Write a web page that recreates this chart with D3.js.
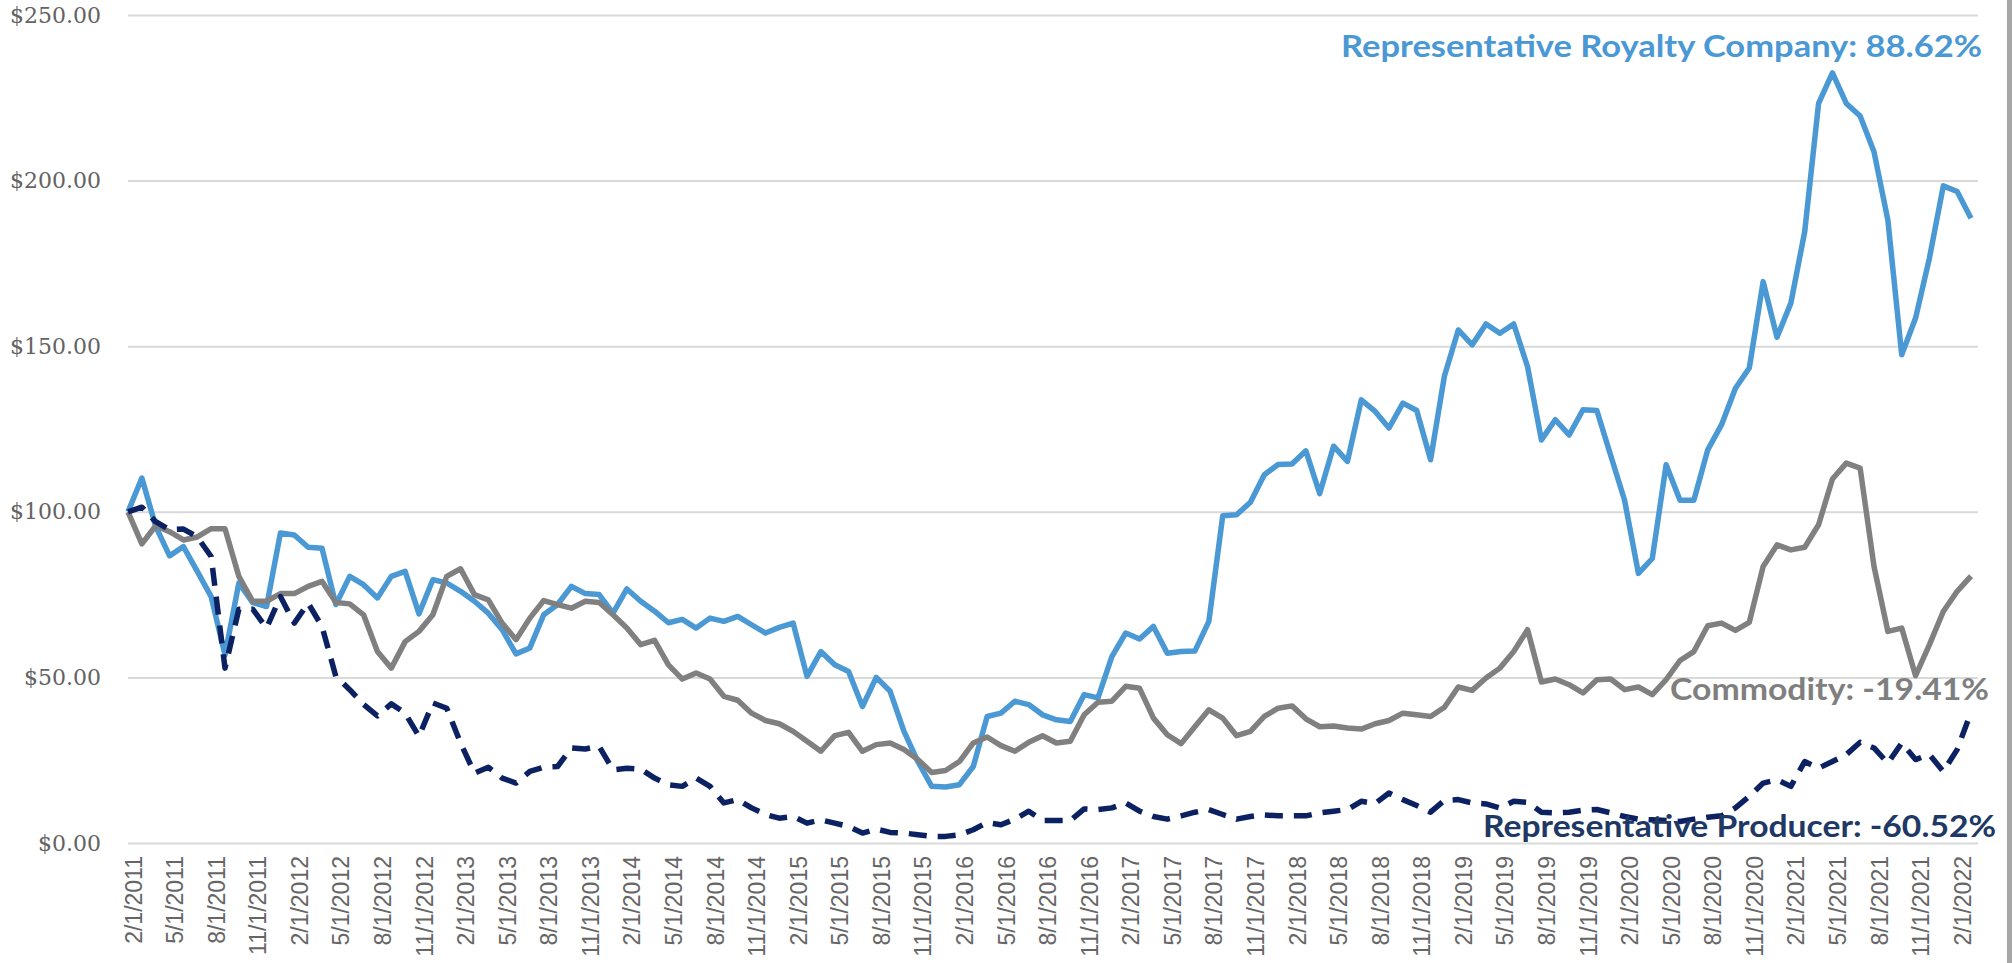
<!DOCTYPE html>
<html>
<head>
<meta charset="utf-8">
<script src="https://cdn.jsdelivr.net/npm/d3@7"></script>
<style>
  body { margin: 0; background: #fff; }
  .y-axis text { font-family: "DejaVu Serif", serif; font-size: 22px; fill: #636363; }
  .x-axis text { font-family: "Liberation Sans", Arial, sans-serif; font-size: 23px; fill: #666; }
  .series-label { font-family: Lato, "Open Sans", sans-serif; font-weight: 700; font-size: 31px; }
</style>
</head>
<body>
<script>
// monthly categories, 2/1/2011 .. 3/1/2022
var firstMonth = new Date(2011, 1, 1),
    lastMonth = new Date(2022, 2, 1);

var yTicks = [0, 50, 100, 150, 200, 250];

// indexed values, start = $100
var royalty = [
  100, 110.2, 95.6, 86.7, 89.5, 82, 74.4, 56.8, 78.5, 72.6, 71.4, 93.6,
  93, 89.3, 89, 72, 80.5, 78, 74, 80.5, 82, 69.2, 79.5, 78.5,
  76, 73, 69.4, 64.4, 57.1, 58.9, 68.9, 72, 77.5, 75.3, 75, 69.4,
  76.7, 73, 70, 66.5, 67.5, 64.9, 67.9, 66.9, 68.4, 65.9, 63.4, 65.1,
  66.4, 50.3, 57.8, 53.8, 51.8, 41.2, 50, 45.8, 33.7, 24.6, 17.1, 16.9,
  17.6, 23.1, 38.2, 39.2, 42.8, 41.8, 38.7, 37.2, 36.7, 44.8, 43.8, 56.3,
  63.4, 61.6, 65.4, 57.3, 57.8, 58, 66.9, 98.8, 99.1, 102.9, 111.2, 114.3,
  114.4, 118.4, 105.5, 119.8, 115.2, 133.8, 130.3, 125.3, 132.8, 130.6, 115.7, 141,
  154.9, 150.4, 156.7, 153.9, 156.7, 143.8, 121.7, 127.8, 123.2, 130.8, 130.6, 117,
  103.5, 81.4, 85.9, 114.2, 103.5, 103.5, 118.7, 126.3, 137.3, 143.4, 169.5, 152.7,
  163, 184.6, 223.3, 232.5, 223.3, 219.5, 208.7, 188.1, 147.4, 158.5, 176.6, 198.4,
  196.7, 188.62
];

var commodity = [
  100, 90.3, 95.8, 94, 91.5, 92.4, 94.9, 94.9, 80.5, 73, 73, 75.3,
  75.3, 77.5, 79, 72.6, 72.2, 68.9, 57.8, 52.8, 60.8, 63.9, 68.9, 80.5,
  82.8, 75, 73.4, 66.4, 61.4, 67.9, 73.2, 72, 70.9, 73, 72.6, 68.9,
  64.9, 59.9, 61.2, 53.8, 49.5, 51.3, 49.5, 44.3, 43.1, 39.2, 37, 36,
  33.7, 30.7, 27.7, 32.4, 33.4, 27.7, 29.7, 30.2, 28.2, 25.2, 21.3, 21.9,
  24.6, 30.2, 32, 29.4, 27.7, 30.4, 32.4, 30.2, 30.7, 38.7, 42.5, 42.8,
  47.3, 46.7, 37.7, 32.7, 30, 35.2, 40.2, 37.7, 32.4, 33.7, 38.2, 40.7,
  41.4, 37.5, 35.1, 35.3, 34.7, 34.4, 36, 37, 39.2, 38.7, 38.2, 41,
  47.1, 46.1, 49.8, 52.8, 57.8, 64.4, 48.6, 49.5, 47.8, 45.3, 49.3, 49.5,
  46.3, 47.1, 44.8, 49.3, 55.1, 57.8, 65.6, 66.4, 64.2, 66.6, 83.5, 90,
  88.5, 89.3, 96.1, 109.9, 114.7, 113.2, 83.5, 63.9, 64.9, 50.5, 59.9, 69.9,
  76, 80.59
];

var producer = [
  100, 101.4, 97, 94.6, 94.8, 92.4, 86.5, 52.8, 70.6, 70.6, 64.9, 74.4,
  66.4, 72.4, 65.4, 50.3, 46.3, 41.8, 38.4, 42, 39.2, 32.2, 42.3, 40.7,
  30.2, 21.1, 22.9, 19.6, 18.1, 21.6, 22.9, 23.1, 28.7, 28.4, 29.2, 22.1,
  22.6, 22.3, 19.6, 17.6, 17.1, 19.6, 17.1, 12.1, 13.1, 10.6, 8.6, 7.5,
  8, 6, 7, 6, 5, 3, 4.2, 3.2, 3, 2.5, 2, 2,
  2.5, 4, 6.2, 5.5, 7.2, 9.6, 6.8, 6.8, 6.8, 10.3, 10.1, 10.6,
  12.1, 9.6, 8, 7.2, 8.2, 9.3, 10.1, 8.6, 7.2, 8, 8.5, 8.2,
  8.2, 8.2, 9.1, 9.6, 10.1, 12.6, 11.9, 15.1, 13.1, 11.3, 9.3, 12.9,
  13.1, 12.1, 11.8, 10.6, 12.6, 12.3, 9.3, 9.1, 9.3, 9.9, 10.1, 9.1,
  8, 7.2, 7, 6.8, 6.5, 7.2, 7.8, 8.2, 10.6, 14.1, 18.1, 19.1,
  17.1, 24.6, 22.6, 24.6, 26.7, 30.4, 28.7, 24.1, 30.2, 25.2, 26.7, 21.6,
  28.2, 39.48
];

var seriesNames = ["Representative Royalty Company", "Commodity", "Representative Producer"];
var seriesReturns = ["88.62%", "-19.41%", "-60.52%"];

var width = 2013,
    height = 963;

var months = d3.timeMonth.range(firstMonth, d3.timeMonth.offset(lastMonth, 1));
var fmtDate = d3.timeFormat("%-m/%-d/%Y");

var svg = d3.select("body").append("svg")
    .attr("width", width)
    .attr("height", height);

// x: one slot per month, points on the ticks
var x = d3.scalePoint()
    .domain(months.map(fmtDate))
    .range([128, 1971]);

var y = d3.scaleLinear()
    .domain([0, 250])
    .range([843, 15]);

// gridlines + y labels
var yAxis = svg.append("g")
    .attr("class", "y-axis")
    .attr("transform", "translate(128,0)")
    .call(d3.axisLeft(y)
        .tickValues(yTicks)
        .tickSize(-(1978 - 128))
        .tickPadding(27)
        .tickFormat(function(d) { return "$" + d3.format(".2f")(d); }));
yAxis.select(".domain").remove();
yAxis.selectAll("line").attr("stroke", "#d9d9d9").attr("stroke-width", 2);

// x labels every 3rd month
var xAxis = svg.append("g")
    .attr("class", "x-axis")
    .attr("transform", "translate(5,856)")
    .call(d3.axisBottom(x)
        .tickValues(x.domain().filter(function(d, i) { return i % 3 == 0; }))
        .tickSize(0)
        .tickPadding(0));
xAxis.select(".domain").remove();
xAxis.selectAll("text")
    .attr("transform", "rotate(-90)")
    .attr("text-anchor", "end")
    .attr("x", 0)
    .attr("y", 0)
    .attr("dy", "0.35em");

var line = d3.line()
    .x(function(d, i) { return x(fmtDate(months[i])); })
    .y(function(d) { return y(d); });

var series = [
  {values: royalty, color: "#4a98d4", dash: null},
  {values: commodity, color: "#808080", dash: null},
  {values: producer, color: "#0b2162", dash: "18,11"}
];

svg.append("g")
    .selectAll("path")
    .data(series)
    .enter()
    .append("path")
    .attr("d", function(d) { return line(d.values); })
    .attr("fill", "none")
    .attr("stroke", function(d) { return d.color; })
    .attr("stroke-width", 5.5)
    .attr("stroke-linejoin", "round")
    .attr("stroke-dasharray", function(d) { return d.dash; });

// end-of-line labels
var labels = [
  {x: 1982, y: 57, w: 641, color: "#4a98d4"},
  {x: 1989, y: 700, w: 319, color: "#7f7f7f"},
  {x: 1996, y: 837, w: 513, color: "#203864"}
];

svg.append("g")
    .selectAll("text")
    .data(labels)
    .enter()
    .append("text")
    .attr("class", "series-label")
    .attr("x", function(d) { return d.x; })
    .attr("y", function(d) { return d.y; })
    .attr("text-anchor", "end")
    .attr("fill", function(d) { return d.color; })
    .attr("textLength", function(d) { return d.w; })
    .attr("lengthAdjust", "spacingAndGlyphs")
    .text(function(d, i) { return seriesNames[i] + ": " + seriesReturns[i]; });

// frame edge on the right
svg.append("rect")
    .attr("x", 2007)
    .attr("y", 0)
    .attr("width", 5)
    .attr("height", height)
    .attr("fill", "#a6a6a6");
</script>
</body>
</html>
